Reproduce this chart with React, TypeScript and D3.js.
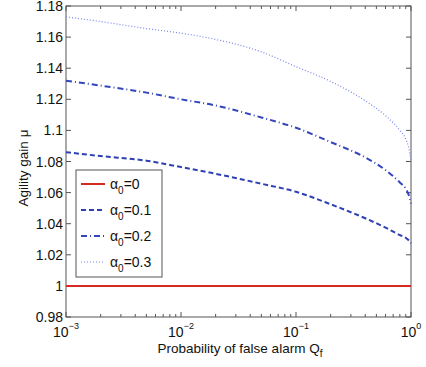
import React, { useEffect, useRef } from 'react';
import * as d3 from 'd3';

// probability of false alarm (x), one entry per sampled point
const qValues = [0.001, 0.002, 0.005, 0.01, 0.02, 0.05, 0.1, 0.2, 0.4, 0.6, 0.8, 0.9, 0.95, 1.0];

// agility gain per alpha_0
const gainA0 = [1, 1, 1, 1, 1, 1, 1, 1, 1, 1, 1, 1, 1, 1];
const gainA01 = [1.086, 1.0835, 1.0805, 1.0764, 1.0721, 1.0657, 1.0605, 1.0525, 1.0435, 1.0375, 1.0327, 1.031, 1.0295, 1.0274];
const gainA02 = [1.132, 1.1288, 1.1243, 1.120, 1.116, 1.1083, 1.1017, 1.0925, 1.0826, 1.0745, 1.0665, 1.0625, 1.059, 1.053];
const gainA03 = [1.173, 1.170, 1.1655, 1.1625, 1.1585, 1.1505, 1.141, 1.1315, 1.119, 1.1095, 1.100, 1.0945, 1.0895, 1.081];

const seriesNames = ['0', '0.1', '0.2', '0.3'];
const yTicks = [0.98, 1, 1.02, 1.04, 1.06, 1.08, 1.1, 1.12, 1.14, 1.16, 1.18];
const xMajor = [-3, -2, -1, 0];

const W = 426, H = 367;
const left = 66, right = 411, top = 6, bottom = 317;

const styles = [
  { color: '#d42a22', width: 2, dash: null },
  { color: '#2f40b4', width: 2, dash: '5,3' },
  { color: '#3346bc', width: 2, dash: '6,3,1,3' },
  { color: '#7484ee', width: 1.2, dash: '1,2' },
];

const drawChart = (node: SVGSVGElement) => {
  const svg = d3.select(node);
  svg.selectAll('*').remove();
  const font = 'Liberation Sans, Arial, sans-serif';

  const x = d3.scaleLog().domain([1e-3, 1]).range([left, right]);
  const y = d3.scaleLinear().domain([0.98, 1.18]).range([bottom, top]);

  svg.append('rect').attr('width', W).attr('height', H).attr('fill', '#fff');

  const axisColor = '#555';
  const g = svg.append('g');

  // y ticks (inside, both sides)
  yTicks.forEach(t => {
    const yy = y(t);
    g.append('line').attr('x1', left).attr('x2', left + 5).attr('y1', yy).attr('y2', yy).attr('stroke', axisColor);
    g.append('line').attr('x1', right).attr('x2', right - 5).attr('y1', yy).attr('y2', yy).attr('stroke', axisColor);
    g.append('text').text(String(t)).attr('x', left - 3).attr('y', yy + 5)
      .attr('text-anchor', 'end').attr('font-family', font).attr('font-size', 14).attr('fill', '#111');
  });

  // x ticks (log, with minors)
  xMajor.forEach(p => {
    const xx = x(Math.pow(10, p));
    g.append('line').attr('x1', xx).attr('x2', xx).attr('y1', bottom).attr('y2', bottom - 5).attr('stroke', axisColor);
    g.append('line').attr('x1', xx).attr('x2', xx).attr('y1', top).attr('y2', top + 5).attr('stroke', axisColor);
    const t = g.append('text').attr('x', xx).attr('y', bottom + 20)
      .attr('text-anchor', 'middle').attr('font-family', font).attr('font-size', 14).attr('fill', '#111');
    t.append('tspan').text('10');
    t.append('tspan').text(p === 0 ? '0' : '\u2212' + Math.abs(p)).attr('dy', -8).attr('font-size', 9);
    if (p < 0) {
      for (let m = 2; m <= 9; m++) {
        const mx = x(m * Math.pow(10, p));
        g.append('line').attr('x1', mx).attr('x2', mx).attr('y1', bottom).attr('y2', bottom - 3).attr('stroke', axisColor);
        g.append('line').attr('x1', mx).attr('x2', mx).attr('y1', top).attr('y2', top + 3).attr('stroke', axisColor);
      }
    }
  });

  g.append('rect').attr('x', left).attr('y', top).attr('width', right - left).attr('height', bottom - top)
    .attr('fill', 'none').attr('stroke', axisColor).attr('stroke-width', 1);

  // curves
  const allSeries = [gainA0, gainA01, gainA02, gainA03];
  const line = d3.line<number>()
    .x((d, i) => x(qValues[i]))
    .y(d => y(d))
    .curve(d3.curveMonotoneX);
  allSeries.forEach((s, k) => {
    svg.append('path').attr('d', line(s)).attr('fill', 'none')
      .attr('stroke', styles[k].color).attr('stroke-width', styles[k].width)
      .attr('stroke-dasharray', styles[k].dash);
  });

  // legend
  const lg = svg.append('g');
  lg.append('rect').attr('x', 76).attr('y', 170).attr('width', 86).attr('height', 107)
    .attr('fill', '#fff').attr('stroke', axisColor);
  seriesNames.forEach((n, k) => {
    const ly = 184 + k * 26;
    lg.append('line').attr('x1', 81).attr('x2', 105).attr('y1', ly).attr('y2', ly)
      .attr('stroke', styles[k].color).attr('stroke-width', styles[k].width)
      .attr('stroke-dasharray', styles[k].dash);
    const t = lg.append('text').attr('x', 110).attr('y', ly + 5)
      .attr('font-family', font).attr('font-size', 14).attr('fill', '#111');
    t.append('tspan').text('\u03b1');
    t.append('tspan').text('0').attr('dy', 5).attr('font-size', 10);
    t.append('tspan').text('=' + n).attr('dy', -5);
  });

  // axis labels
  const xl = svg.append('text').attr('x', 240).attr('y', 353).attr('text-anchor', 'middle')
    .attr('font-family', font).attr('font-size', 13.5).attr('fill', '#111');
  xl.append('tspan').text('Probability of false alarm Q');
  xl.append('tspan').text('f').attr('dy', 4).attr('font-size', 10);

  svg.append('text').text('Agility gain \u03bc')
    .attr('transform', 'translate(28,168) rotate(-90)').attr('text-anchor', 'middle')
    .attr('font-family', font).attr('font-size', 13.5).attr('fill', '#111');
};

const App = () => {
  const ref = useRef<SVGSVGElement>(null);
  useEffect(() => { if (ref.current) drawChart(ref.current); }, []);
  return (
    <div style={{ position: 'absolute', left: 0, top: 0 }}>
      <svg ref={ref} width={W} height={H}></svg>
    </div>
  );
};

export default App;
